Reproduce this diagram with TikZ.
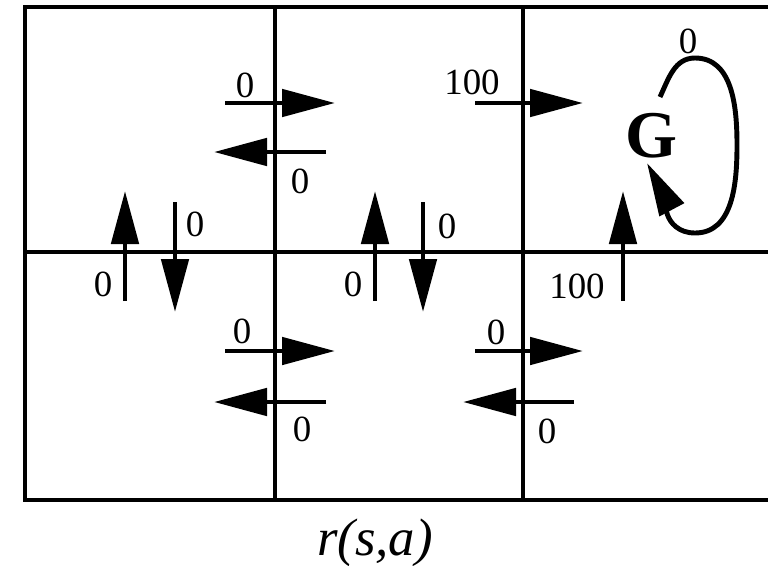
\documentclass[tikz,border=0pt]{standalone}
\usepackage{fontspec}
\setmainfont{Liberation Serif}
\usetikzlibrary{arrows.meta}

\begin{document}
\begin{tikzpicture}[
    wall/.style={line width=1.4pt},
    move/.style={line width=1.4pt, -{Triangle[length=5.3mm, width=2.7mm]}},
    rew/.style={inner sep=0pt, font=\fontsize{10.5}{12}\selectfont}]
  \useasboundingbox (0,0) rectangle (7.68,5.65);
  % Grid world
  \draw[wall] (0.25,0.65) rectangle (7.72,5.58);
  \draw[wall] (2.75,0.65) -- (2.75,5.58);
  \draw[wall] (5.23,0.65) -- (5.23,5.58);
  \draw[wall] (0.25,3.13) -- (7.72,3.13);
  % Moves across the first wall
  \draw[move] (2.25,4.62) -- (3.35,4.62);
  \draw[move] (3.26,4.13) -- (2.14,4.13);
  \draw[move] (2.25,2.14) -- (3.35,2.14);
  \draw[move] (3.26,1.63) -- (2.14,1.63);
  % Moves across the second wall
  \draw[move] (4.75,4.62) -- (5.83,4.62);
  \draw[move] (4.75,2.14) -- (5.83,2.14);
  \draw[move] (5.74,1.63) -- (4.63,1.63);
  % Moves up and down
  \draw[move] (1.25,2.64) -- (1.25,3.74);
  \draw[move] (1.75,3.63) -- (1.75,2.53);
  \draw[move] (3.75,2.64) -- (3.75,3.74);
  \draw[move] (4.23,3.63) -- (4.23,2.53);
  \draw[move] (6.23,2.64) -- (6.23,3.74);
  % Rewards
  \node[rew] (r1) at (2.45,4.80) {0};
  \node[rew] (r2) at (3.00,3.84) {0};
  \node[rew] (r3) at (4.72,4.83) {100};
  \node[rew] (r4) at (1.95,3.41) {0};
  \node[rew] (r5) at (1.03,2.81) {0};
  \node[rew] (r6) at (4.47,3.39) {0};
  \node[rew] (r7) at (3.53,2.81) {0};
  \node[rew] (r8) at (5.77,2.79) {100};
  \node[rew] (r9) at (2.42,2.34) {0};
  \node[rew] (r10) at (3.02,1.36) {0};
  \node[rew] (r11) at (4.96,2.33) {0};
  \node[rew] (r12) at (5.47,1.34) {0};
  % Goal and its self loop
  \node[inner sep=0pt, font=\fontsize{19}{22}\selectfont\bfseries] (goal) at (6.51,4.29) {G};
  \node[rew] (rg) at (6.88,5.24) {0};
  \draw[move] (6.60,4.68) to[out=65,in=180] (6.95,5.07) to[out=0,in=90] (7.37,4.20)
    to[out=-90,in=0] (6.95,3.32) to[out=180,in=-62] (6.47,4.02);
  % Caption
  \node[anchor=base, inner sep=0pt, font=\fontsize{15}{18}\selectfont\itshape] (cap) at (3.75,0.10) {r(s,a)};
\end{tikzpicture}
\end{document}
